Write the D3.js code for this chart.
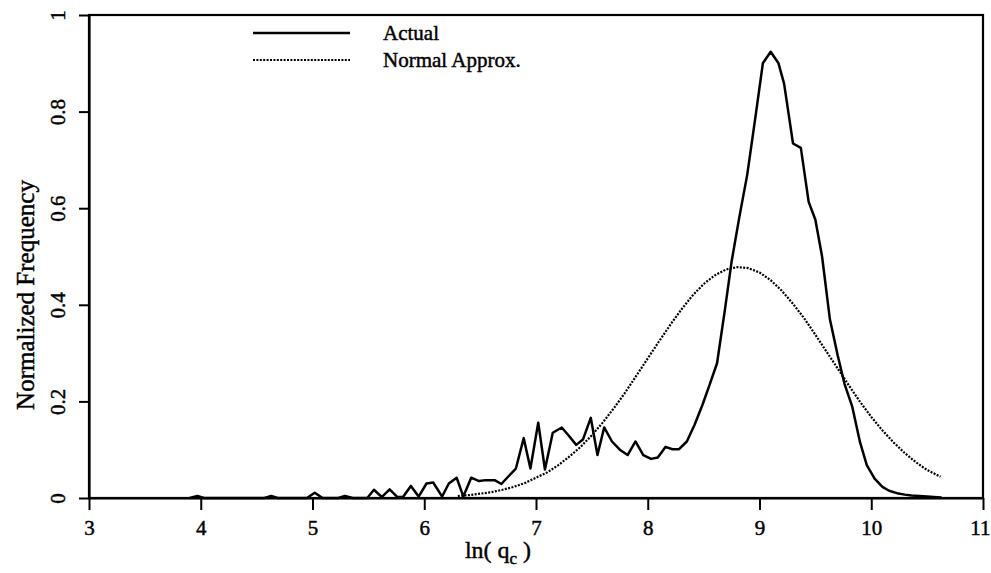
<!DOCTYPE html>
<html>
<head>
<meta charset="utf-8">
<script src="https://cdn.jsdelivr.net/npm/d3@7/dist/d3.min.js"></script>
<style>
  html, body { margin: 0; padding: 0; background: #fff; }
  svg text { font-family: "Liberation Serif", "DejaVu Serif", serif; fill: #000; stroke: #000; stroke-width: 0.45px; }
</style>
</head>
<body>
<svg id="chart" width="991" height="573"></svg>
<script>
// ---- data ----
const actualX = [3.90,3.97,4.03,4.57,4.63,4.69,4.95,5.02,5.09,5.23,5.29,5.36,5.49,5.55,5.62,5.69,5.76,5.81,5.88,5.95,
  6.02,6.08,6.16,6.22,6.29,6.35,6.42,6.49,6.55,6.63,6.69,6.75,6.82,6.89,6.95,7.02,7.08,7.15,7.23,7.29,
  7.36,7.42,7.49,7.55,7.61,7.68,7.75,7.82,7.89,7.96,8.03,8.09,8.16,8.22,8.28,8.35,8.42,8.49,8.55,8.62,
  8.69,8.75,8.82,8.89,8.96,9.03,9.10,9.17,9.22,9.30,9.37,9.44,9.50,9.56,9.63,9.70,9.76,9.83,9.90,9.96,
  10.03,10.10,10.16,10.23,10.30,10.36,10.43,10.50,10.56,10.63];
const actualY = [0.000,0.004,0.000,0.000,0.004,0.000,0.000,0.011,0.000,0.000,0.004,0.000,0.000,0.017,0.002,0.018,0.002,0.002,0.025,0.003,
  0.030,0.032,0.003,0.030,0.042,0.003,0.042,0.035,0.037,0.037,0.029,0.044,0.061,0.124,0.061,0.156,0.059,0.135,0.146,0.130,
  0.110,0.121,0.166,0.089,0.146,0.117,0.100,0.089,0.117,0.089,0.081,0.084,0.106,0.101,0.101,0.117,0.152,0.193,0.232,0.279,
  0.389,0.489,0.582,0.669,0.783,0.900,0.924,0.900,0.858,0.734,0.725,0.613,0.576,0.500,0.370,0.295,0.237,0.189,0.115,0.068,
  0.040,0.023,0.015,0.010,0.007,0.005,0.004,0.003,0.002,0.001];

const normalX = [6.3,6.4,6.5,6.6,6.7,6.8,6.9,7.0,7.1,7.2,7.3,7.4,7.5,7.6,7.7,7.8,7.9,8.0,8.1,8.2,8.3,8.4,8.5,8.6,8.7,8.8,
  8.9,9.0,9.1,9.2,9.3,9.4,9.5,9.6,9.7,9.8,9.9,10.0,10.1,10.2,10.3,10.4,10.5,10.62];
const normalY = [0.004,0.006,0.009,0.012,0.017,0.023,0.031,0.042,0.053,0.068,0.086,0.106,0.130,0.157,0.187,0.219,0.254,0.289,0.324,0.358,0.390,0.419,0.443,0.461,0.473,0.478,
  0.476,0.467,0.451,0.429,0.402,0.372,0.338,0.303,0.268,0.233,0.199,0.168,0.140,0.115,0.093,0.074,0.058,0.044];

const xTicks = [3,4,5,6,7,8,9,10,11];
const yTicks = [0,0.2,0.4,0.6,0.8,1];
const yTickLabels = ["0","0.2","0.4","0.6","0.8","1"];
const legendLabels = ["Actual","Normal Approx."];

// ---- layout ----
const svg = d3.select("#chart");
const mLeft = 89, mRight = 983, mTop = 15, mBottom = 498;
const x = d3.scaleLinear().domain([3, 11]).range([mLeft, mRight]);
const y = d3.scaleLinear().domain([0, 1]).range([mBottom, mTop]);

const line = d3.line().x(d => x(d[0])).y(d => y(d[1]));

// frame
svg.append("rect").attr("x", mLeft).attr("y", mTop).attr("width", mRight - mLeft).attr("height", mBottom - mTop)
  .attr("fill", "none").attr("stroke", "#000").attr("stroke-width", 2.2);

// axes
const xAxis = d3.axisBottom(x).tickValues(xTicks).tickSize(12).tickSizeOuter(0).tickFormat(d3.format("d"));
const gx = svg.append("g").attr("transform", `translate(0,${mBottom})`).call(xAxis);
gx.select(".domain").attr("stroke-width", 2.2);
gx.selectAll(".tick line").attr("stroke-width", 2);
gx.selectAll(".tick text").attr("font-size", 21).attr("dy", 0).attr("y", 37)
  .style("font-family", "Liberation Serif, serif");
gx.selectAll(".tick text").filter(d => d === 11).attr("text-anchor", "end").attr("x", 7);

const yAxis = d3.axisLeft(y).tickValues(yTicks).tickSize(10).tickSizeOuter(0).tickFormat((d, i) => yTickLabels[i]);
const gy = svg.append("g").attr("transform", `translate(${mLeft},0)`).call(yAxis);
gy.select(".domain").attr("stroke-width", 2.2);
gy.selectAll(".tick line").attr("stroke-width", 2);
gy.selectAll(".tick text")
  .attr("font-size", 21)
  .attr("x", null).attr("dy", null)
  .attr("text-anchor", "middle")
  .attr("transform", "translate(-24,0) rotate(-90)")
  .attr("y", 0)
  .style("font-family", "Liberation Serif, serif");

// series
svg.append("path").datum(normalX.map((v, i) => [v, normalY[i]]))
  .attr("d", line).attr("fill", "none").attr("stroke", "#000")
  .attr("stroke-width", 2.2).attr("stroke-dasharray", "2,1.4");
svg.append("path").datum(actualX.map((v, i) => [v, actualY[i]]))
  .attr("d", line).attr("fill", "none").attr("stroke", "#000")
  .attr("stroke-width", 2.5).attr("stroke-linejoin", "round");

// legend
const lg = svg.append("g");
lg.append("line").attr("x1", 253).attr("x2", 350).attr("y1", 33).attr("y2", 33)
  .attr("stroke", "#000").attr("stroke-width", 2.5);
lg.append("line").attr("x1", 253).attr("x2", 350).attr("y1", 60).attr("y2", 60)
  .attr("stroke", "#000").attr("stroke-width", 2.2).attr("stroke-dasharray", "2,1.4");
lg.append("text").attr("x", 383).attr("y", 40).attr("font-size", 21).text(legendLabels[0]);
lg.append("text").attr("x", 383).attr("y", 67).attr("font-size", 21).text(legendLabels[1]);

// axis titles
const xl = svg.append("text").attr("x", 498).attr("y", 558).attr("text-anchor", "middle").attr("font-size", 24);
xl.append("tspan").text("ln( q");
xl.append("tspan").attr("font-size", 17).attr("dy", 6).text("c");
xl.append("tspan").attr("dy", -6).text(" )");

svg.append("text").attr("transform", "translate(34,295) rotate(-90)")
  .attr("text-anchor", "middle").attr("font-size", 25).text("Normalized Frequency");
</script>
</body>
</html>
